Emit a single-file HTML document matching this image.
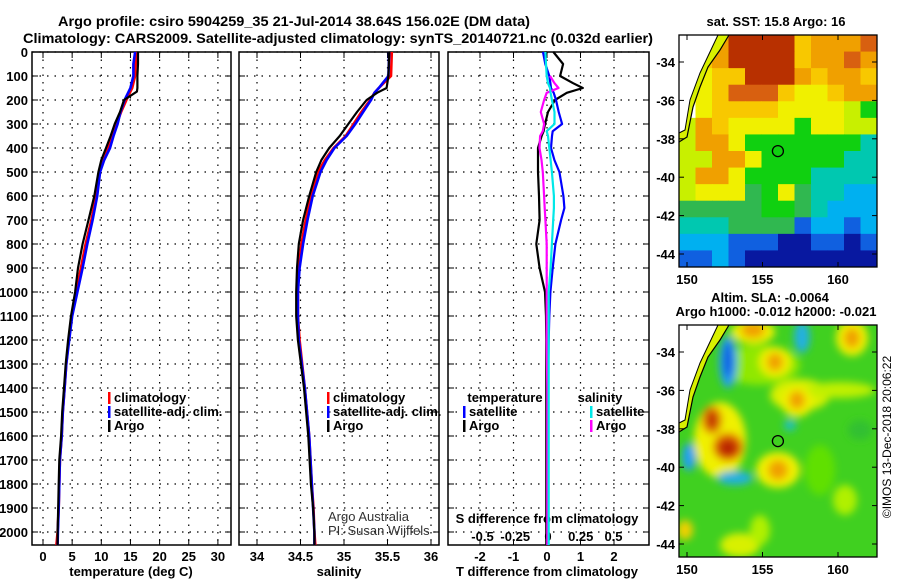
<!DOCTYPE html>
<html><head><meta charset="utf-8"><style>
html,body{margin:0;padding:0;background:#fff;width:900px;height:580px;overflow:hidden}
svg text{font-family:"Liberation Sans",Arial,sans-serif;font-weight:bold;font-size:13px;fill:#000}
</style></head><body>
<svg id="fig" width="900" height="580" viewBox="0 0 900 580" xmlns="http://www.w3.org/2000/svg">
<text x="58" y="26" textLength="472" lengthAdjust="spacingAndGlyphs" style="font-size:14px">Argo profile: csiro 5904259_35 21-Jul-2014 38.64S 156.02E (DM data)</text>
<text x="23" y="43" textLength="630" lengthAdjust="spacingAndGlyphs" style="font-size:14px">Climatology: CARS2009. Satellite-adjusted climatology: synTS_20140721.nc (0.032d earlier)</text>
<g id="g"></g>
</svg>
<script>
// ---- data ----
const tDepth = [0,50,100,150,165,200,250,300,350,400,450,500,600,700,800,900,1000,1100,1200,1300,1400,1500,1600,1700,1800,1900,2000,2054];
const tClim  = [16.0,15.9,15.8,15.3,15.0,14.3,13.4,12.6,11.9,11.2,10.3,9.7,9.1,8.3,7.3,6.5,5.7,4.9,4.4,4.0,3.7,3.4,3.2,2.9,2.8,2.7,2.5,2.3];
const tSat   = [15.8,15.5,15.5,15.0,14.7,14.0,13.3,12.8,12.1,11.5,10.5,9.8,9.3,8.5,7.6,6.8,5.9,5.0,4.5,4.0,3.7,3.4,3.2,2.9,2.8,2.7,2.55,2.5];
const tArgo  = [16.3,16.3,16.2,16.2,16.1,13.9,13.2,12.3,11.6,10.8,10.0,9.5,8.8,7.8,6.8,6.0,5.5,4.8,4.3,3.9,3.6,3.3,3.1,2.8,2.7,2.6,2.5,2.5];
const sDepth = [0,100,150,170,200,250,300,350,400,450,500,600,700,800,900,1000,1100,1200,1400,1600,1800,1900,2000,2054];
const sClim  = [35.55,35.54,35.40,35.35,35.30,35.20,35.11,35.02,34.88,34.78,34.70,34.62,34.56,34.51,34.48,34.47,34.47,34.49,34.55,34.60,34.63,34.65,34.66,34.67];
const sSat   = [35.52,35.51,35.40,35.35,35.31,35.22,35.13,35.03,34.89,34.80,34.73,34.64,34.58,34.53,34.49,34.47,34.47,34.48,34.55,34.60,34.63,34.645,34.66,34.66];
const sArgo  = [35.52,35.51,35.49,35.38,35.26,35.15,35.05,34.95,34.83,34.74,34.68,34.60,34.53,34.48,34.46,34.45,34.45,34.47,34.54,34.59,34.62,34.645,34.66,34.66];
const dDepth = [0,50,100,130,150,170,200,250,300,330,350,400,450,500,600,650,700,800,900,1000,1100,1200,1400,1700,2000,2054];
const dtArgo = [0.19,0.48,0.39,0.78,1.07,0.59,0.24,0.03,-0.06,-0.1,-0.16,-0.27,-0.27,-0.27,-0.24,-0.23,-0.22,-0.32,-0.22,-0.06,-0.03,-0.02,-0.02,-0.02,-0.02,-0.02];
const dtSat  = [-0.12,-0.05,0.07,0.1,0.12,0.2,0.27,0.35,0.45,0.17,0.15,0.12,0.22,0.37,0.49,0.52,0.42,0.25,0.17,0.10,0.07,0.05,0.03,0.03,0.02,0.02];
const dsSat  = [-0.02,-0.015,-0.01,0.0,0.015,0.02,0.03,0.05,0.05,-0.01,0.0,0.01,0.02,0.03,0.045,0.045,0.04,0.03,0.02,0.005,0.005,0.005,0.005,0.005,0.005,0.005];
const dsArgo = [null,null,0.015,0.05,0.08,-0.01,-0.03,-0.055,-0.03,-0.04,-0.06,-0.065,-0.05,-0.04,-0.03,-0.025,-0.02,-0.01,-0.01,-0.01,-0.01,-0.01,-0.005,-0.005,-0.005,-0.005];
const tTicks = [0,5,10,15,20,25,30];
const sTicks = [34,34.5,35,35.5,36];
const sTickLbl = ['34','34.5','35','35.5','36'];
const dtTicks = [-2,-1,0,1,2];
const dsTicks = [-0.5,-0.25,0,0.25,0.5];
const dsTickLbl = ['-0.5','-0.25','0','0.25','0.5'];
const depthTicks = [0,100,200,300,400,500,600,700,800,900,1000,1100,1200,1300,1400,1500,1600,1700,1800,1900,2000];
const latTicks = [-34,-36,-38,-40,-42,-44];
const lonTicks = [150,155,160];
const sstGrid = [
"WoODDDDoOOOR",
"WoODDDDoOORO",
"WYooDDDOoOOo",
"WYoRRRoYYoOO",
"WYooooYYYYyG",
"yOoYYYYGYYyy",
"yOOYGGGGGGGT",
"yyOOYGGGGGTT",
"yOOYGGGGTTTT",
"yYYYgGYgTTCC",
"gggggGGgTCCC",
"TTTggggBCCBC",
"CCCBBBNNBBNB",
"BBCBNNNNNNNN"];
const sstColors = {W:'#ffffff',D:'#b83000',R:'#d86010',O:'#f0a000',o:'#f8c800',Y:'#f0f000',y:'#c8f000',G:'#10d010',g:'#30b850',T:'#00c8b0',C:'#00b0f0',B:'#1060e0',N:'#0818a0'};
const profLon = 156.02, profLat = -38.64;

// ---- helpers ----
const NS='http://www.w3.org/2000/svg';
const G=document.getElementById('g');
function mk(tag,at,parent){const e=document.createElementNS(NS,tag);for(const k in at)e.setAttribute(k,at[k]);(parent||G).appendChild(e);return e;}
const pTop=52,pBot=545;
const yD=d=>pTop+d*0.24;
function axes(x0,x1,name){
  const r=mk('rect',{x:x0,y:pTop,width:x1-x0,height:pBot-pTop,fill:'none',stroke:'#000','stroke-width':1.5});
  
  
  depthTicks.forEach(d=>{const y=yD(d);
    mk('line',{x1:x0,x2:x1,y1:y,y2:y,stroke:'#000','stroke-dasharray':'1.5,6','stroke-width':1.2});
    mk('line',{x1:x0,x2:x0+6,y1:y,y2:y,stroke:'#000'});mk('line',{x1:x1-6,x2:x1,y1:y,y2:y,stroke:'#000'});});
}
function vgrid(x0,x1,xs){xs.forEach(x=>{mk('line',{x1:x,x2:x,y1:pTop,y2:pBot,stroke:'#000','stroke-dasharray':'1.5,6','stroke-width':1.2});
  mk('line',{x1:x,x2:x,y1:pBot-6,y2:pBot,stroke:'#000'});mk('line',{x1:x,x2:x,y1:pTop,y2:pTop+6,stroke:'#000'});});}
function line(xs,ds,fx,col,name,w){
  let d='',pen=false;
  xs.forEach((v,i)=>{if(v===null){pen=false;return;}d+=(pen?'L':'M')+fx(v).toFixed(1)+','+yD(ds[i]).toFixed(1);pen=true;});
  const p=mk('path',{d:d,fill:'none',stroke:col,'stroke-width':w||2.6,'stroke-linejoin':'round'});
  
  
}
function txt(x,y,s,anchor,name,extra){const t=mk('text',Object.assign({x:x,y:y,'text-anchor':anchor||'start'},extra||{}));t.textContent=s;
  
  return t;}
function legend(x,y,col,s,name){mk('rect',{x:x-5,y:y-10,width:2.5,height:12,fill:col});txt(x+1,y,s,'start',name);}

// ---- panel 1: temperature ----
const xT=v=>43+v*5.83;
axes(32,231,'temperature-panel');vgrid(32,231,tTicks.map(xT));
depthTicks.forEach(d=>txt(28,yD(d)+5,String(d),'end','depth-tick-label'));
tTicks.forEach(v=>txt(xT(v),561,String(v),'middle','temperature-tick-label'));
txt(131,576,'temperature (deg C)','middle','temperature-axis-title');
line(tClim,tDepth,xT,'#ff0000','temp-climatology-line');
line(tSat,tDepth,xT,'#0000ff','temp-satellite-line');
line(tArgo,tDepth,xT,'#000000','temp-argo-line',2.2);
legend(113,402,'#ff0000','climatology','legend-climatology');
legend(113,416,'#0000ff','satellite-adj. clim.','legend-satellite');
legend(113,430,'#000000','Argo','legend-argo');

// ---- panel 2: salinity ----
const xS=v=>257+(v-34)*87;
axes(239,439,'salinity-panel');vgrid(239,439,sTicks.map(xS));
sTicks.forEach((v,i)=>txt(xS(v),561,sTickLbl[i],'middle','salinity-tick-label'));
txt(339,576,'salinity','middle','salinity-axis-title');
line(sClim,sDepth,xS,'#ff0000','sal-climatology-line');
line(sSat,sDepth,xS,'#0000ff','sal-satellite-line');
line(sArgo,sDepth,xS,'#000000','sal-argo-line',2.2);
legend(332,402,'#ff0000','climatology','legend-climatology-sal');
legend(332,416,'#0000ff','satellite-adj. clim.','legend-satellite-sal');
legend(332,430,'#000000','Argo','legend-argo-sal');
txt(328,521,'Argo Australia','start','credit-argo-australia',{style:'font-weight:normal;fill:#333'});
txt(328,535,'PI: Susan Wijffels','start','credit-pi',{style:'font-weight:normal;fill:#333'});

// ---- panel 3: differences ----
const xDT=v=>547+v*33.5, xDS=v=>548+v*131;
axes(448,649,'difference-panel');vgrid(448,649,dtTicks.map(xDT));
dtTicks.forEach(v=>txt(xDT(v),561,String(v),'middle','t-diff-tick-label'));
dsTicks.forEach((v,i)=>txt(xDS(v),541,dsTickLbl[i],'middle','s-diff-tick-label'));
txt(547,523,'S difference from climatology','middle','s-diff-axis-title');
txt(547,576,'T difference from climatology','middle','t-diff-axis-title');
line(dtArgo,dDepth,xDT,'#000000','tdiff-argo-line',2.2);
line(dtSat,dDepth,xDT,'#0000ff','tdiff-satellite-line',2.2);
line(dsArgo,dDepth,xDS,'#ff00ff','sdiff-argo-line',2.2);
line(dsSat,dDepth,xDS,'#00e8e8','sdiff-satellite-line',2.2);
txt(505,402,'temperature','middle','legend-temperature-header');
legend(468,416,'#0000ff','satellite','legend-t-satellite');
legend(468,430,'#000000','Argo','legend-t-argo');
txt(600,402,'salinity','middle','legend-salinity-header');
legend(595,416,'#00e8e8','satellite','legend-s-satellite');
legend(595,430,'#ff00ff','Argo','legend-s-argo');

// ---- maps ----
const mx0=679,mx1=877,mw=198,mh=232;
const xL=l=>687+(l-150)*15.1;
function mapFrame(yt,name){
  const yLat=la=>yt+27+(-34-la)*19.2;
  const land=`M${mx0},${yt} L718,${yt} L700,${yt+38} L690,${yt+65} L685,${yt+95} L${mx0},${yt+98} Z`;
  mk('path',{d:`M${mx0},${yt} L729,${yt} L720,${yt+15} L708,${yt+32} L700,${yt+52} L693,${yt+72} L689,${yt+92} L687,${yt+102} L${mx0},${yt+107} Z`,fill:'#d8f000'});
  mk('path',{d:land,fill:'#fff'});
  mk('polyline',{points:`729,${yt} 720,${yt+15} 708,${yt+32} 700,${yt+52} 693,${yt+72} 689,${yt+92} 687,${yt+102} ${mx0},${yt+107}`,fill:'none',stroke:'#000','stroke-width':1.2});
  mk('path',{d:`M718,${yt} L700,${yt+38} L690,${yt+65} L685,${yt+95} L${mx0},${yt+98}`,fill:'none',stroke:'#000','stroke-width':1});
  const c=mk('circle',{cx:xL(profLon),cy:yLat(profLat),r:5.5,fill:'none',stroke:'#000','stroke-width':1.3});
  
  
  const r=mk('rect',{x:mx0,y:yt,width:mw,height:mh,fill:'none',stroke:'#000','stroke-width':1.3});
  
  
  latTicks.forEach(la=>{const y=yLat(la);txt(675,y+5,String(la),'end','lat-tick-label');
    mk('line',{x1:mx0,x2:mx0+5,y1:y,y2:y,stroke:'#000'});mk('line',{x1:mx1-5,x2:mx1,y1:y,y2:y,stroke:'#000'});});
  lonTicks.forEach(lo=>{const x=xL(lo);txt(x,yt+mh+17,String(lo),'middle','lon-tick-label');
    mk('line',{x1:x,x2:x,y1:yt+mh-5,y2:yt+mh,stroke:'#000'});mk('line',{x1:x,x2:x,y1:yt,y2:yt+5,stroke:'#000'});});
}
// SST map
const sst=mk('g',{});


const cw=mw/12,ch=mh/14;
sstGrid.forEach((row,r)=>{for(let c=0;c<row.length;c++){mk('rect',{x:mx0+c*cw,y:35+r*ch,width:cw+0.5,height:ch+0.5,fill:sstColors[row[c]]},sst);}});
mapFrame(35,'sst-map');
txt(776,26,'sat. SST: 15.8 Argo: 16','middle','sst-map-title');

// SLA map
const defs=mk('defs',{});
const f=mk('filter',{id:'bl',x:'-50%',y:'-50%',width:'200%',height:'200%'},defs);mk('feGaussianBlur',{stdDeviation:4},f);
const cp=mk('clipPath',{id:'cp'},defs);mk('rect',{x:mx0,y:325,width:mw,height:mh},cp);
const sla=mk('g',{'clip-path':'url(#cp)'});


mk('rect',{x:mx0,y:325,width:mw,height:mh,fill:'#40d020'},sla);
const bg=mk('g',{filter:'url(#bl)'},sla);
[[760,365,40,20,'#90e800'],[800,395,30,16,'#d8f000'],[840,390,35,8,'#c0f000'],[720,440,26,38,'#f0f000'],[778,470,22,18,'#f0f000'],[753,332,22,12,'#f0f000'],[852,338,16,18,'#f0f000'],[775,362,16,15,'#f0f000'],[797,402,16,15,'#f0f000'],
 [728,362,9,26,'#20a0f0'],[728,360,4,18,'#1050e0'],[689,457,7,14,'#20a0f0'],[735,478,18,7,'#20b0e0'],[802,337,8,16,'#20b0e0'],[790,425,6,6,'#20c0c0'],
 [712,420,10,14,'#e07000'],[728,447,15,14,'#e06000'],[728,448,9,8,'#b82000'],[712,420,5,8,'#c03000'],[753,330,12,8,'#f0a000'],[775,362,8,9,'#f0a000'],[797,400,8,9,'#f0a000'],[852,338,8,10,'#f0a000'],[778,470,10,10,'#f0a000'],
 [685,530,8,10,'#f0d000'],[740,545,20,12,'#d8f000'],[820,470,15,25,'#60e000'],[860,430,12,10,'#30c030'],[760,530,10,15,'#b0f000'],[845,500,12,15,'#b0f000']
].forEach(e=>mk('ellipse',{cx:e[0],cy:e[1],rx:e[2],ry:e[3],fill:e[4]},bg));
mapFrame(325,'sla-map');
txt(770,302,'Altim. SLA: -0.0064','middle','sla-map-title');
txt(776,316,'Argo h1000: -0.012 h2000: -0.021','middle','sla-map-subtitle');
txt(0,0,'©IMOS 13-Dec-2018 20:06:22','middle','imos-credit',{transform:'translate(891,437) rotate(-90)',style:'font-weight:normal;font-size:12px'});
</script>
</body></html>
